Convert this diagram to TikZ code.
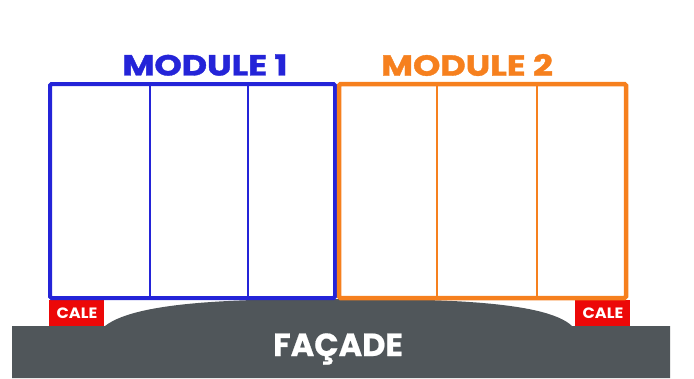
\documentclass[tikz,border=0pt]{standalone}
\usepackage{fontspec}
\setmainfont{Poppins}
\definecolor{modblue}{RGB}{36,36,216}
\definecolor{modorange}{RGB}{246,128,30}
\definecolor{facgray}{RGB}{80,86,90}
\definecolor{calered}{RGB}{236,8,8}
\tikzset{
  modframe/.style={line width=#1, rounded corners=1.5pt},
  modlabel/.style={font=\bfseries\addfontfeature{FakeBold=1.2}\fontsize{29}{29}\selectfont,
                   inner sep=0pt, xscale=1.2},
  calebox/.style={fill=calered, draw=none},
  caletext/.style={text=white, font=\bfseries\fontsize{15}{15}\selectfont,
                   inner sep=0pt, xscale=1.08}
}
\begin{document}
\begin{tikzpicture}[x=1pt,y=-1pt]

  \useasboundingbox (0,0) rectangle (694,378);

  \begin{scope}   % facade and supports

    \def\Fl{12};
    \def\Fr{670};
    \def\Ft{326};
    \coordinate (FL) at (\Fl,\Ft);
    \coordinate (FR) at (\Fr,\Ft);
    \coordinate (BL) at (105,\Ft);
    \coordinate (BR) at (572,\Ft);
    \coordinate (BT) at (340,299);

    \fill[facgray] (\Fl,378) -- (FL) -- (BL)
        .. controls (138,300) and (250,299) .. (BT)
        .. controls (430,299) and (545,300) .. (BR)
        -- (FR) -- (\Fr,378) -- cycle;

    \node[text=white, font=\bfseries\addfontfeature{FakeBold=0.6}\fontsize{32}{32}\selectfont,
          inner sep=0pt] (facade) at (338,349) {FAÇADE};

    \fill[calebox] (49,300) rectangle (104,\Ft);
    \node[caletext] (caleL) at (77,313) {CALE};
    \fill[calebox] (575,300) rectangle (630,\Ft);
    \node[caletext] (caleR) at (603,313) {CALE};

  \end{scope}

  \begin{scope}   % module 1 and module 2

    \def\Mt{84};
    \def\Mb{298};

    \draw[modblue, modframe=4pt] (50,\Mt) rectangle (335,\Mb);
    \draw[modblue, line width=1.6pt] (150,\Mt) -- (150,\Mb);
    \draw[modblue, line width=1.3pt] (248,\Mt) -- (248,\Mb);
    \node[modlabel, text=modblue] (mod1) at (205,65) {MODULE 1};

    \draw[modorange, modframe=4.5pt] (339,\Mt) rectangle (626,\Mb);
    \draw[modorange, line width=2pt] (437,\Mt) -- (437,\Mb);
    \draw[modorange, line width=2pt] (537,\Mt) -- (537,\Mb);
    \node[modlabel, text=modorange] (mod2) at (467,65) {MODULE 2};

  \end{scope}

\end{tikzpicture}
\end{document}
